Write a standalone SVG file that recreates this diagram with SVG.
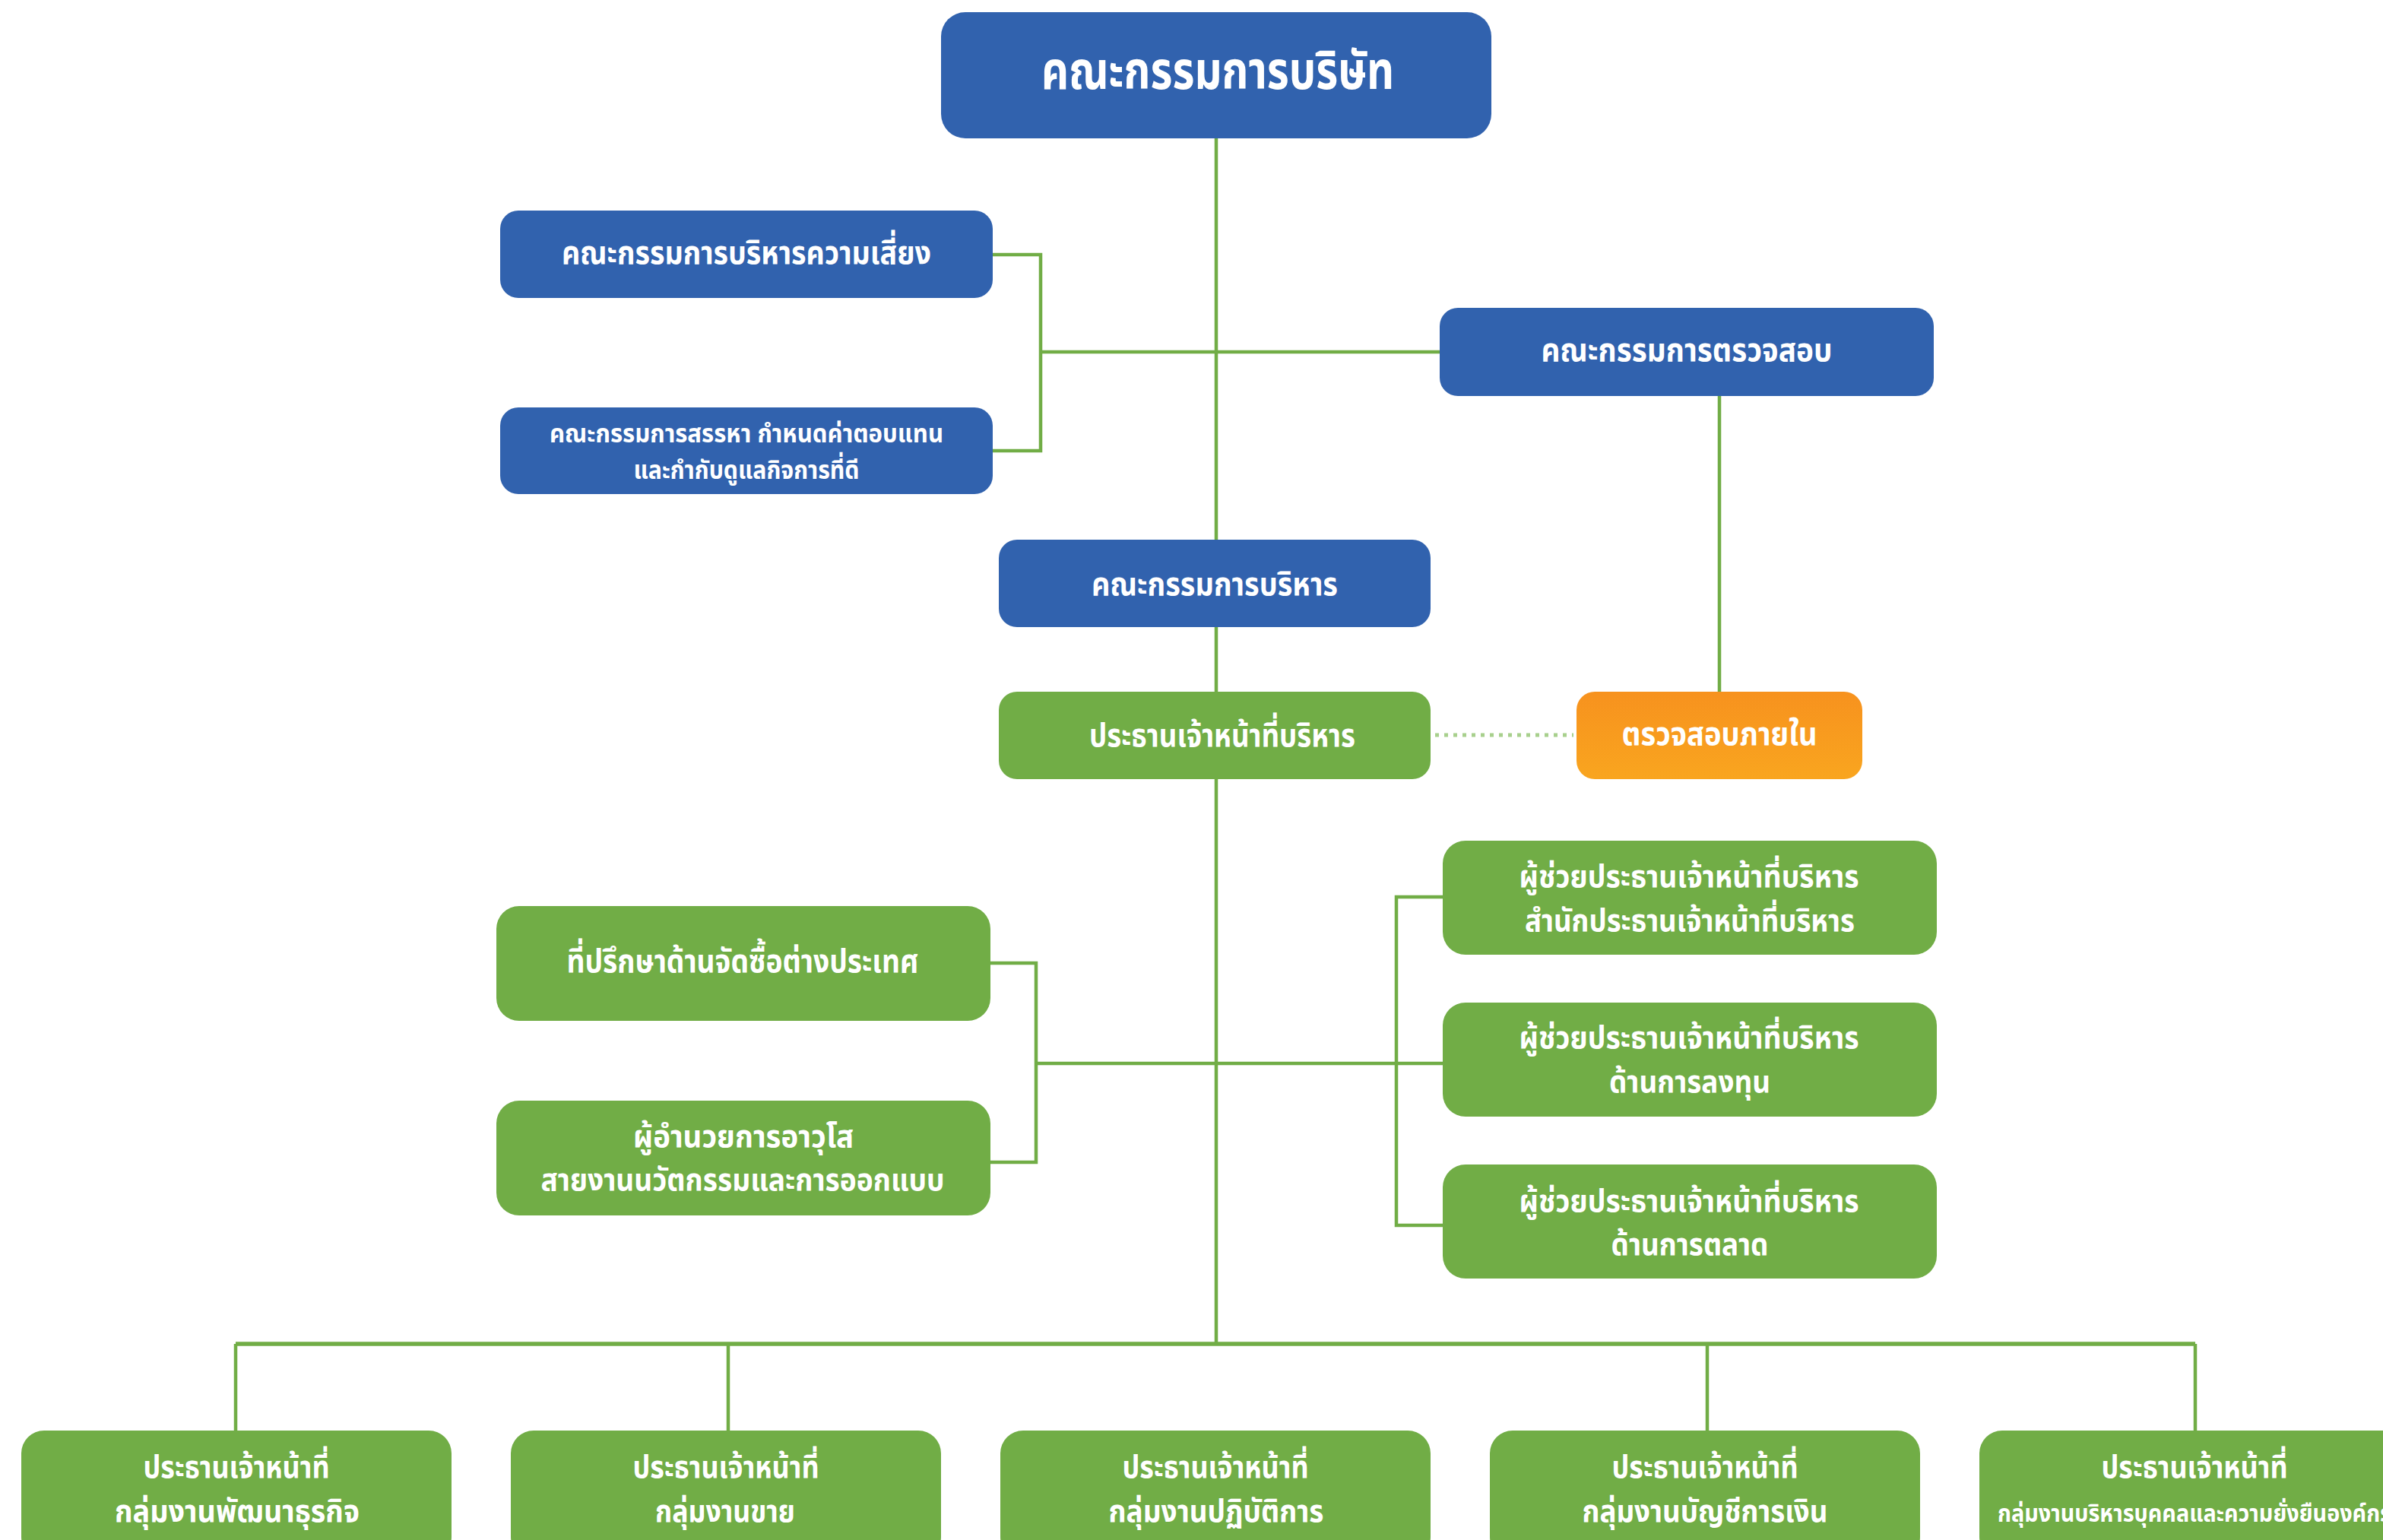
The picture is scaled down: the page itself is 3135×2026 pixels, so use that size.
<svg xmlns="http://www.w3.org/2000/svg" width="3135" height="2026" viewBox="0 0 3135 2026">
<defs>
<linearGradient id="og" x1="0" y1="0" x2="0" y2="1"><stop offset="0" stop-color="#F7921E"/><stop offset="1" stop-color="#F9A51F"/></linearGradient>
<style>
.b{fill:#3162AE}
.g{fill:#71AD46}
.o{fill:url(#og)}
.t{font-family:"Noto Sans Thai","Noto Sans","DejaVu Sans",sans-serif;font-weight:bold;fill:#fff;text-anchor:middle;font-size:43px}
.two{font-size:40px}
.nom{font-size:34px}
.big{font-size:70px}
.sm{font-size:31px}
.ln{stroke:#71AD46;stroke-width:4.5;fill:none}
.bus{stroke:#71AD46;stroke-width:5.5;fill:none}
.dot{stroke:#A8D08D;stroke-width:5;stroke-dasharray:5 7;fill:none}
</style>
</defs>
<rect width="3135" height="2026" fill="#fff"/>
<g id="connectors">
<path class="ln" d="M1600 182V1768"/>
<path class="ln" d="M1306 335H1369V593H1306"/>
<path class="ln" d="M1369 463H1894"/>
<path class="ln" d="M2262 520V910"/>
<path class="dot" d="M1888 967H2070"/>
<path class="ln" d="M1302 1267H1363V1529H1302"/>
<path class="ln" d="M1363 1399H1898"/>
<path class="ln" d="M1898 1180H1837V1612H1898"/>
<path class="bus" d="M310 1768H2888"/>
<path class="ln" d="M310 1768V1882M958 1768V1882M2246 1768V1882M2888 1768V1882"/>
</g>
<g id="board"><rect class="b" x="1238" y="16" width="724" height="166" rx="32"/><text class="t big" x="1602" y="117" textLength="464" lengthAdjust="spacingAndGlyphs">คณะกรรมการบริษัท</text></g>
<g id="risk"><rect class="b" x="658" y="277" width="648" height="115" rx="24"/><text class="t" x="982" y="347" textLength="486" lengthAdjust="spacingAndGlyphs">คณะกรรมการบริหารความเสี่ยง</text></g>
<g id="nomination"><rect class="b" x="658" y="536" width="648" height="114" rx="24"/><text class="t nom" x="982" y="582" textLength="518" lengthAdjust="spacingAndGlyphs">คณะกรรมการสรรหา กำหนดค่าตอบแทน</text><text class="t nom" x="982" y="630" textLength="297" lengthAdjust="spacingAndGlyphs">และกำกับดูแลกิจการที่ดี</text></g>
<g id="audit"><rect class="b" x="1894" y="405" width="650" height="116" rx="24"/><text class="t" x="2219" y="475" textLength="383" lengthAdjust="spacingAndGlyphs">คณะกรรมการตรวจสอบ</text></g>
<g id="exec"><rect class="b" x="1314" y="710" width="568" height="115" rx="24"/><text class="t" x="1598" y="783" textLength="324" lengthAdjust="spacingAndGlyphs">คณะกรรมการบริหาร</text></g>
<g id="ceo"><rect class="g" x="1314" y="910" width="568" height="115" rx="24"/><text class="t" x="1608" y="982" textLength="350" lengthAdjust="spacingAndGlyphs">ประธานเจ้าหน้าที่บริหาร</text></g>
<g id="internal-audit"><rect class="o" x="2074" y="910" width="376" height="115" rx="24"/><text class="t" x="2262" y="980" textLength="257" lengthAdjust="spacingAndGlyphs">ตรวจสอบภายใน</text></g>
<g id="advisor"><rect class="g" x="653" y="1192" width="650" height="151" rx="30"/><text class="t" x="977" y="1279" textLength="463" lengthAdjust="spacingAndGlyphs">ที่ปรึกษาด้านจัดซื้อต่างประเทศ</text></g>
<g id="director"><rect class="g" x="653" y="1448" width="650" height="151" rx="30"/><text class="t two" x="978" y="1509" textLength="290" lengthAdjust="spacingAndGlyphs">ผู้อำนวยการอาวุโส</text><text class="t two" x="977" y="1566" textLength="531" lengthAdjust="spacingAndGlyphs">สายงานนวัตกรรมและการออกแบบ</text></g>
<g id="asst-office"><rect class="g" x="1898" y="1106" width="650" height="150" rx="30"/><text class="t two" x="2222" y="1167" textLength="447" lengthAdjust="spacingAndGlyphs">ผู้ช่วยประธานเจ้าหน้าที่บริหาร</text><text class="t two" x="2223" y="1225" textLength="434" lengthAdjust="spacingAndGlyphs">สำนักประธานเจ้าหน้าที่บริหาร</text></g>
<g id="asst-invest"><rect class="g" x="1898" y="1319" width="650" height="150" rx="30"/><text class="t two" x="2222" y="1379" textLength="447" lengthAdjust="spacingAndGlyphs">ผู้ช่วยประธานเจ้าหน้าที่บริหาร</text><text class="t two" x="2223" y="1437" textLength="212" lengthAdjust="spacingAndGlyphs">ด้านการลงทุน</text></g>
<g id="asst-marketing"><rect class="g" x="1898" y="1532" width="650" height="150" rx="30"/><text class="t two" x="2222" y="1594" textLength="447" lengthAdjust="spacingAndGlyphs">ผู้ช่วยประธานเจ้าหน้าที่บริหาร</text><text class="t two" x="2223" y="1651" textLength="207" lengthAdjust="spacingAndGlyphs">ด้านการตลาด</text></g>
<g id="bd"><rect class="g" x="28" y="1882" width="566" height="170" rx="30"/><text class="t two" x="311" y="1944" textLength="245" lengthAdjust="spacingAndGlyphs">ประธานเจ้าหน้าที่</text><text class="t two" x="312" y="2002" textLength="322" lengthAdjust="spacingAndGlyphs">กลุ่มงานพัฒนาธุรกิจ</text></g>
<g id="sales"><rect class="g" x="672" y="1882" width="566" height="170" rx="30"/><text class="t two" x="955" y="1944" textLength="245" lengthAdjust="spacingAndGlyphs">ประธานเจ้าหน้าที่</text><text class="t two" x="954" y="2002" textLength="184" lengthAdjust="spacingAndGlyphs">กลุ่มงานขาย</text></g>
<g id="ops"><rect class="g" x="1316" y="1882" width="566" height="170" rx="30"/><text class="t two" x="1599" y="1944" textLength="245" lengthAdjust="spacingAndGlyphs">ประธานเจ้าหน้าที่</text><text class="t two" x="1600" y="2002" textLength="283" lengthAdjust="spacingAndGlyphs">กลุ่มงานปฏิบัติการ</text></g>
<g id="finance"><rect class="g" x="1960" y="1882" width="566" height="170" rx="30"/><text class="t two" x="2243" y="1944" textLength="245" lengthAdjust="spacingAndGlyphs">ประธานเจ้าหน้าที่</text><text class="t two" x="2243" y="2002" textLength="323" lengthAdjust="spacingAndGlyphs">กลุ่มงานบัญชีการเงิน</text></g>
<g id="hr"><rect class="g" x="2604" y="1882" width="566" height="170" rx="30"/><text class="t two" x="2887" y="1944" textLength="245" lengthAdjust="spacingAndGlyphs">ประธานเจ้าหน้าที่</text><text class="t sm" x="2887" y="2002" textLength="518" lengthAdjust="spacingAndGlyphs">กลุ่มงานบริหารบุคคลและความยั่งยืนองค์กร</text></g>
</svg>
